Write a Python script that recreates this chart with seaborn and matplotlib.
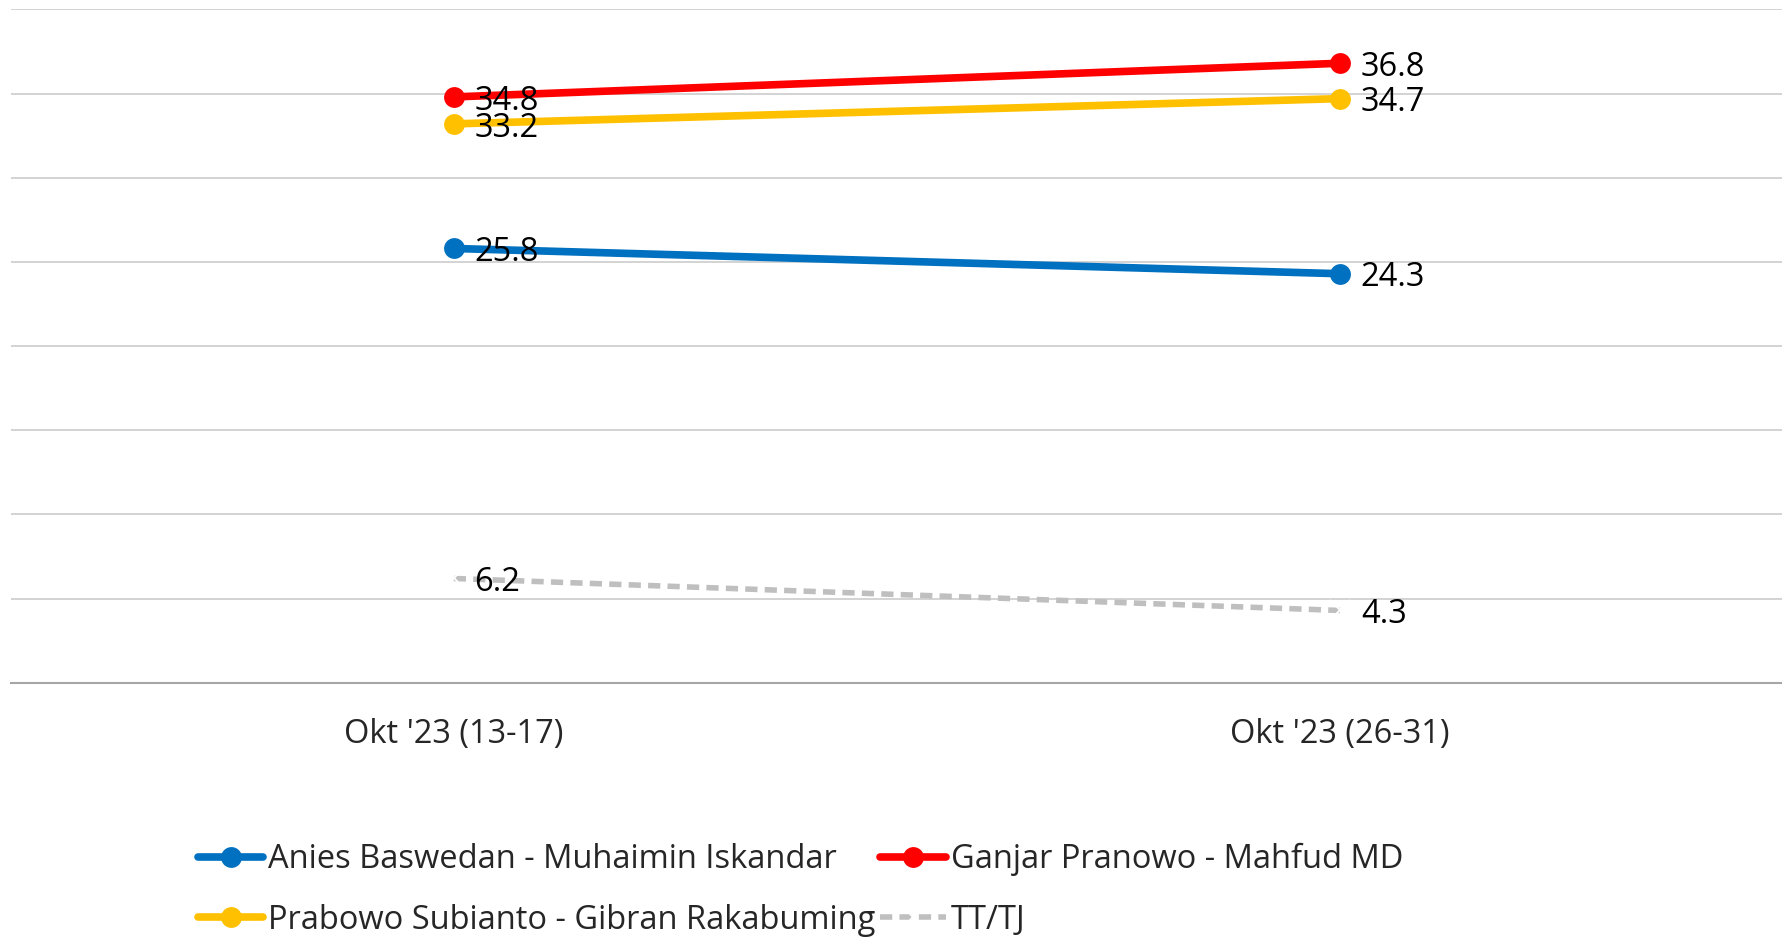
import seaborn as sns
import matplotlib.pyplot as plt

periods = ["Okt '23 (13-17)", "Okt '23 (26-31)"]
anies = [25.8, 24.3]
ganjar = [34.8, 36.8]
prabowo = [33.2, 34.7]
tttj = [6.2, 4.3]

names = ["Anies Baswedan - Muhaimin Iskandar", "Ganjar Pranowo - Mahfud MD",
         "Prabowo Subianto - Gibran Rakabuming", "TT/TJ"]
series = [anies, ganjar, prabowo, tttj]
colors = ["#0070C0", "#FF0000", "#FFC000", "#BFBFBF"]

sns.set_style("white")
plt.rcParams['font.family'] = ['Open Sans', 'DejaVu Sans']

fig = plt.figure(figsize=(17.83, 9.38), dpi=100)
ax = fig.add_axes([0.006, 0.272, 0.994, 0.718])

x = list(range(len(periods)))
for name, vals, col in zip(names, series, colors):
    if name == "TT/TJ":
        sns.lineplot(x=x, y=vals, ax=ax, color=col, lw=4, linestyle=(0, (2.2, 1.3)),
                     marker="x", markersize=15, markeredgewidth=1.3, label=name)
    else:
        sns.lineplot(x=x, y=vals, ax=ax, color=col, lw=5.5, marker="o",
                     markersize=15, markeredgewidth=0, label=name)
    for xi, v in zip(x, vals):
        ax.annotate(f"{v:.1f}", (xi, v), xytext=(15, -3), textcoords="offset points",
                    va="center", ha="left", fontsize=23.5, color="black")

ax.set_xlim(-0.5, 1.5)
ax.set_ylim(0, 40)
ax.set_yticks(range(0, 41, 5))
ax.set_yticklabels([])
ax.tick_params(axis="y", length=0)
ax.set_xticks(x)
ax.set_xticklabels(periods, fontsize=23.5)
ax.tick_params(axis="x", length=0, pad=25)
ax.grid(axis="y", color="#D0D0D0", lw=1.3)
ax.set_axisbelow(True)
for s in ["top", "right", "left"]:
    ax.spines[s].set_visible(False)
ax.spines["bottom"].set_color("#A6A6A6")
ax.spines["bottom"].set_linewidth(1.5)

ax.legend().remove()
handles, labels = ax.get_legend_handles_labels()
order = [0, 2, 1, 3]
fig.legend([handles[i] for i in order], [labels[i] for i in order], ncol=2,
           loc="upper left", bbox_to_anchor=(0.111, 0.101), frameon=False,
           fontsize=23.5, handlelength=2.0, handletextpad=0.15, columnspacing=0.15,
           labelspacing=0.83, borderaxespad=0, borderpad=0)

fig.savefig("out.png", dpi=100)
